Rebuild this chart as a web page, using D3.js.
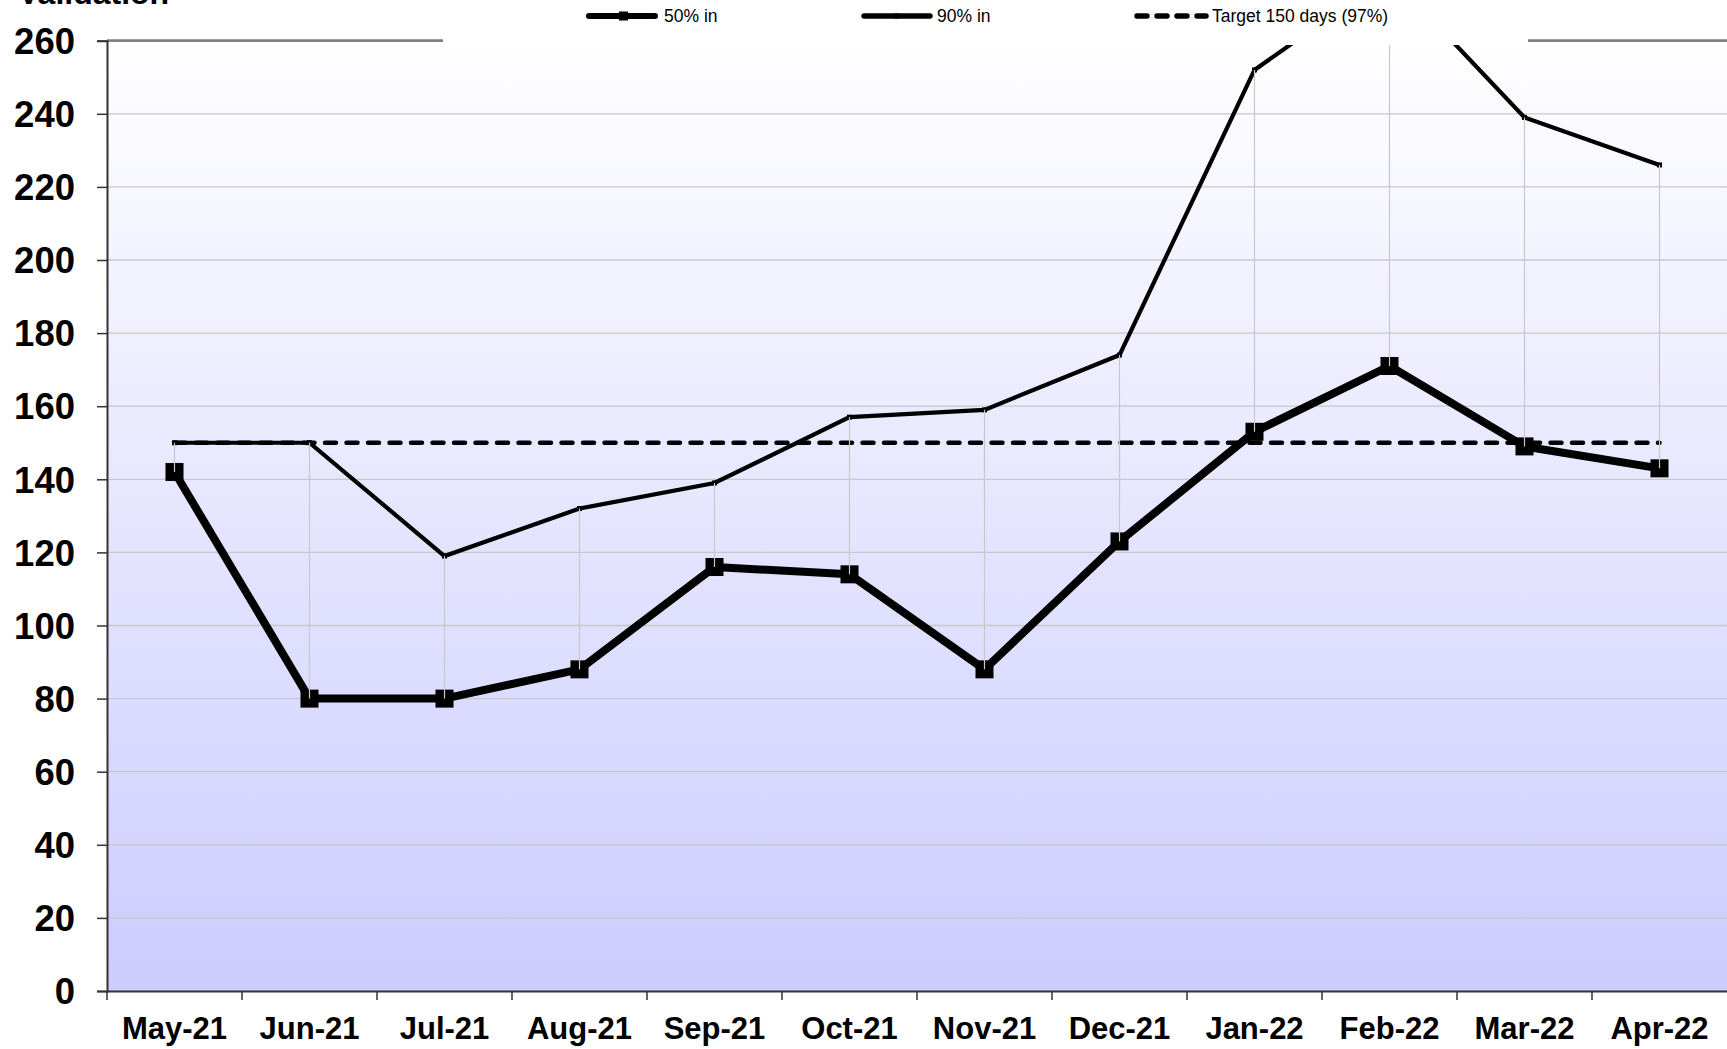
<!DOCTYPE html>
<html>
<head>
<meta charset="utf-8">
<script src="https://cdn.jsdelivr.net/npm/d3@7"></script>
<style>
  html, body { margin: 0; padding: 0; background: #ffffff; overflow: hidden; }
  svg { display: block; font-family: "Liberation Sans", Arial, sans-serif; }
</style>
</head>
<body>
<svg id="chart" width="1727" height="1049"></svg>
<script>
const categories = ["May-21","Jun-21","Jul-21","Aug-21","Sep-21","Oct-21","Nov-21","Dec-21","Jan-22","Feb-22","Mar-22","Apr-22"];
const series50 = [142, 80, 80, 88, 116, 114, 88, 123, 153, 171, 149, 143];
const series90 = [150, 150, 119, 132, 139, 157, 159, 174, 252, 278, 239, 226];
const target = [150,150,150,150,150,150,150,150,150,150,150,150];
const yTicks = [0,20,40,60,80,100,120,140,160,180,200,220,240,260];
const legendLabels = ["50% in", "90% in", "Target 150 days (97%)"];
const titleText = "Validation";

const W = 1727, H = 1049;
const pLeft = 107, pRight = 1727, pTop = 40.7, pBottom = 991;
const svg = d3.select("#chart");

const x = d3.scaleBand().domain(categories).range([pLeft, pRight]).padding(0);
const y = d3.scaleLinear().domain([0, 260]).range([pBottom, pTop]);
const cx = d => x(d) + x.bandwidth() / 2;

const defs = svg.append("defs");
const grad = defs.append("linearGradient").attr("id", "bg").attr("x1", 0).attr("y1", 0).attr("x2", 0).attr("y2", 1);
grad.append("stop").attr("offset", "0%").attr("stop-color", "#ffffff");
grad.append("stop").attr("offset", "100%").attr("stop-color", "#ccccff");
defs.append("clipPath").attr("id", "plotclip").append("rect")
  .attr("x", pLeft).attr("y", pTop).attr("width", pRight - pLeft).attr("height", pBottom - pTop);

// plot background
svg.append("rect").attr("x", pLeft).attr("y", pTop).attr("width", pRight - pLeft).attr("height", pBottom - pTop)
  .attr("fill", "url(#bg)");

// gridlines
svg.append("g").selectAll("line").data(yTicks.filter(t => t > 0 && t < 260)).join("line")
  .attr("x1", pLeft).attr("x2", pRight).attr("y1", d => y(d)).attr("y2", d => y(d))
  .attr("stroke", "#c8c8c8").attr("stroke-width", 1.3);

// top border
svg.append("line").attr("x1", pLeft).attr("x2", pRight).attr("y1", y(260)).attr("y2", y(260))
  .attr("stroke", "#808080").attr("stroke-width", 2.8);

const plot = svg.append("g").attr("clip-path", "url(#plotclip)");

// target dashed
plot.append("path").datum(target)
  .attr("d", d3.line().x((d, i) => cx(categories[i])).y(d => y(d)))
  .attr("fill", "none").attr("stroke", "#000").attr("stroke-width", 4.5)
  .attr("stroke-dasharray", "11,10.5").attr("stroke-linecap", "round");

// 90% line
plot.append("path").datum(series90)
  .attr("d", d3.line().x((d, i) => cx(categories[i])).y(d => y(d)))
  .attr("fill", "none").attr("stroke", "#000").attr("stroke-width", 4.2).attr("stroke-linejoin", "miter");
plot.append("g").selectAll("rect").data(series90).join("rect")
  .attr("x", (d, i) => cx(categories[i]) - 2.5).attr("y", d => y(d) - 2.5)
  .attr("width", 5).attr("height", 5).attr("fill", "#000");

// 50% line
plot.append("path").datum(series50)
  .attr("d", d3.line().x((d, i) => cx(categories[i])).y(d => y(d)))
  .attr("fill", "none").attr("stroke", "#000").attr("stroke-width", 8).attr("stroke-linejoin", "round");
plot.append("g").selectAll("rect").data(series50).join("rect")
  .attr("x", (d, i) => cx(categories[i]) - 9).attr("y", d => y(d) - 9)
  .attr("width", 18).attr("height", 18).attr("fill", "#000");

// high-low lines
plot.append("g").selectAll("line").data(categories).join("line")
  .attr("x1", d => cx(d)).attr("x2", d => cx(d))
  .attr("y1", (d, i) => y(series90[i])).attr("y2", (d, i) => y(series50[i]))
  .attr("stroke", "#c8c8c8").attr("stroke-width", 1.2);

// axes
const yAxis = d3.axisLeft(y).tickValues(yTicks).tickSize(10).tickPadding(22);
const gy = svg.append("g").attr("transform", `translate(${pLeft},0)`).call(yAxis);
gy.select(".domain").attr("stroke", "#333").attr("stroke-width", 2);
gy.selectAll(".tick line").attr("stroke", "#333").attr("stroke-width", 1.5);
gy.selectAll(".tick text").attr("font-size", 36.5).attr("font-weight", "bold").attr("fill", "#000")
  .attr("font-family", "Liberation Sans, Arial, sans-serif").attr("dy", "0.35em");

const xAxis = d3.axisBottom(x).tickSize(0).tickPadding(26);
const gx = svg.append("g").attr("transform", `translate(0,${pBottom})`).call(xAxis);
gx.select(".domain").attr("stroke", "#333").attr("stroke-width", 2.2);
gx.selectAll(".tick text").attr("font-size", 31).attr("font-weight", "bold").attr("fill", "#000")
  .attr("font-family", "Liberation Sans, Arial, sans-serif");
// category boundary ticks
svg.append("g").selectAll("line").data(categories).join("line")
  .attr("x1", d => x(d)).attr("x2", d => x(d)).attr("y1", pBottom).attr("y2", pBottom + 9)
  .attr("stroke", "#333").attr("stroke-width", 1.5);

// legend
const lg = svg.append("g");
lg.append("rect").attr("x", 443).attr("y", 0).attr("width", 1528 - 443).attr("height", 45).attr("fill", "#ffffff");
const ly = 16;
lg.append("line").attr("x1", 589).attr("x2", 655).attr("y1", ly).attr("y2", ly)
  .attr("stroke", "#000").attr("stroke-width", 6).attr("stroke-linecap", "round");
lg.append("rect").attr("x", 619).attr("y", ly - 4.5).attr("width", 9).attr("height", 9).attr("fill", "#000");
lg.append("text").attr("x", 664).attr("y", ly + 6).attr("font-size", 17.5).text(legendLabels[0]);

lg.append("line").attr("x1", 864).attr("x2", 930).attr("y1", ly).attr("y2", ly)
  .attr("stroke", "#000").attr("stroke-width", 5.5).attr("stroke-linecap", "round");
lg.append("rect").attr("x", 894).attr("y", ly - 2.5).attr("width", 5).attr("height", 5).attr("fill", "#000");
lg.append("text").attr("x", 937).attr("y", ly + 6).attr("font-size", 17.5).text(legendLabels[1]);

lg.append("line").attr("x1", 1137).attr("x2", 1206).attr("y1", ly).attr("y2", ly)
  .attr("stroke", "#000").attr("stroke-width", 5.5).attr("stroke-linecap", "round")
  .attr("stroke-dasharray", "10,10");
lg.append("text").attr("x", 1212).attr("y", ly + 6).attr("font-size", 17.5).text(legendLabels[2]);

// title (mostly cut off at top, as in the original)
svg.append("text").attr("x", 18).attr("y", 4).attr("font-size", 32).attr("font-weight", "bold")
  .attr("fill", "#000").text(titleText);
</script>
</body>
</html>
